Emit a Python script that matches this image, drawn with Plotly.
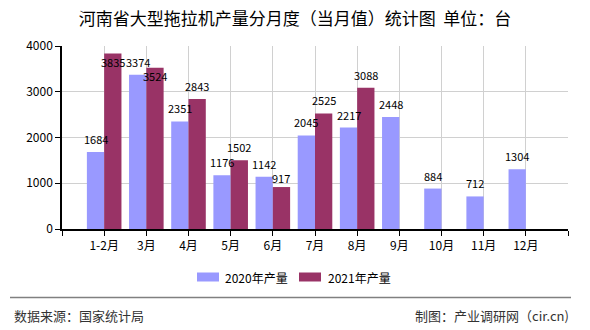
import plotly.graph_objects as go

# Monthly output of large tractors in Henan (units)
months = ["1-2月", "3月", "4月", "5月", "6月", "7月", "8月", "9月", "10月", "11月", "12月"]
series_names = ["2020年产量", "2021年产量"]
output_2020 = [1684, 3374, 2351, 1176, 1142, 2045, 2217, 2448, 884, 712, 1304]
output_2021 = [3835, 3524, 2843, 1502, 917, 2525, 3088, None, None, None, None]
y_ticks = [0, 1000, 2000, 3000, 4000]

COLORS = ["#9999FF", "#993366"]
W, H = 590, 330
ML, MR, MT, MB = 62, 22, 46, 101
PW, PH = W - ML - MR, H - MT - MB

def px_x(px):
    return (px - ML) / PW

def px_y(py):
    return (H - MB - py) / PH

LABEL_FONT = dict(family="SimSun, Noto Sans CJK SC, sans-serif", size=11, color="#000000")
CJK = "Noto Sans CJK SC, sans-serif"

fig = go.Figure()
idx = list(range(len(months)))
for name, vals, color in zip(series_names, [output_2020, output_2021], COLORS):
    fig.add_trace(go.Bar(x=idx, y=vals, name=name, marker=dict(color=color, line=dict(width=0)),
                         showlegend=False))

# value labels above each bar; a few are nudged where neighbours collide
half = 0.82 / 4
nudges = {(1, 0): -8, (1, 1): -8, (1, 4): 9}
annotations = []
for s, vals in enumerate([output_2020, output_2021]):
    for i, v in enumerate(vals):
        if v is None:
            continue
        annotations.append(dict(x=i + (-half if s == 0 else half), y=v, xref="x", yref="y",
                                text=str(v), showarrow=False, font=LABEL_FONT,
                                xanchor="center", yanchor="middle",
                                yshift=nudges.get((s, i), 13)))

# legend drawn as swatches + labels
shapes = []
legend_items = [(197, 223), (299, 326)]
for (sx, tx), name, color in zip(legend_items, series_names, COLORS):
    shapes.append(dict(type="rect", xref="paper", yref="paper",
                       x0=px_x(sx), x1=px_x(sx + 22), y0=px_y(281.5), y1=px_y(272.5),
                       fillcolor=color, line=dict(width=0)))
    annotations.append(dict(x=px_x(tx), y=px_y(277), xref="paper", yref="paper", text=name,
                            showarrow=False, xanchor="left", yanchor="middle",
                            font=dict(family=CJK, size=12, color="#000000")))

# footer separator and source notes
shapes.append(dict(type="line", xref="paper", yref="paper", x0=px_x(10), x1=px_x(571),
                   y0=px_y(297.5), y1=px_y(297.5), line=dict(color="#808080", width=1.5)))
annotations.append(dict(x=px_x(12), y=px_y(315), xref="paper", yref="paper",
                        text="数据来源：国家统计局", showarrow=False, xanchor="left", yanchor="middle",
                        font=dict(family=CJK, size=13, color="#333333")))
annotations.append(dict(x=px_x(571), y=px_y(315), xref="paper", yref="paper",
                        text="制图：产业调研网（cir.cn)", showarrow=False, xanchor="right",
                        yanchor="middle", font=dict(family=CJK, size=13, color="#333333")))

fig.update_layout(
    width=W, height=H,
    margin=dict(l=ML, r=MR, t=MT, b=MB, pad=0),
    paper_bgcolor="#ffffff", plot_bgcolor="#ffffff",
    barmode="group", bargap=0.18, bargroupgap=0,
    title=dict(text="河南省大型拖拉机产量分月度（当月值）统计图  单位：台",
               x=295 / W, xanchor="center", y=1 - 19 / H, yanchor="middle",
               font=dict(family=CJK, size=17, color="#000000")),
    xaxis=dict(range=[-1, len(months)], tickmode="array",
               tickvals=list(range(-1, len(months) + 1)),
               ticktext=[""] + months + [""],
               showgrid=True, gridcolor="#d0d0d0", gridwidth=1,
               showline=True, linecolor="#000000", linewidth=1.5,
               ticks="outside", ticklen=5, tickcolor="#000000", tickwidth=1,
               tickfont=dict(family="SimSun, Noto Sans CJK SC, sans-serif", size=12, color="#000000"),
               zeroline=False, fixedrange=True),
    yaxis=dict(range=[0, 4000], tickmode="array", tickvals=y_ticks,
               ticktext=[str(t) for t in y_ticks],
               showgrid=True, gridcolor="#d0d0d0", gridwidth=1,
               showline=True, linecolor="#000000", linewidth=1.5,
               ticks="outside", ticklen=5, tickcolor="#000000", tickwidth=1,
               tickfont=dict(family="SimSun, Noto Sans CJK SC, sans-serif", size=12, color="#000000"),
               zeroline=False, fixedrange=True),
    annotations=annotations,
    shapes=shapes,
    showlegend=False,
)

fig.write_html("out.html", config={"displayModeBar": False})
